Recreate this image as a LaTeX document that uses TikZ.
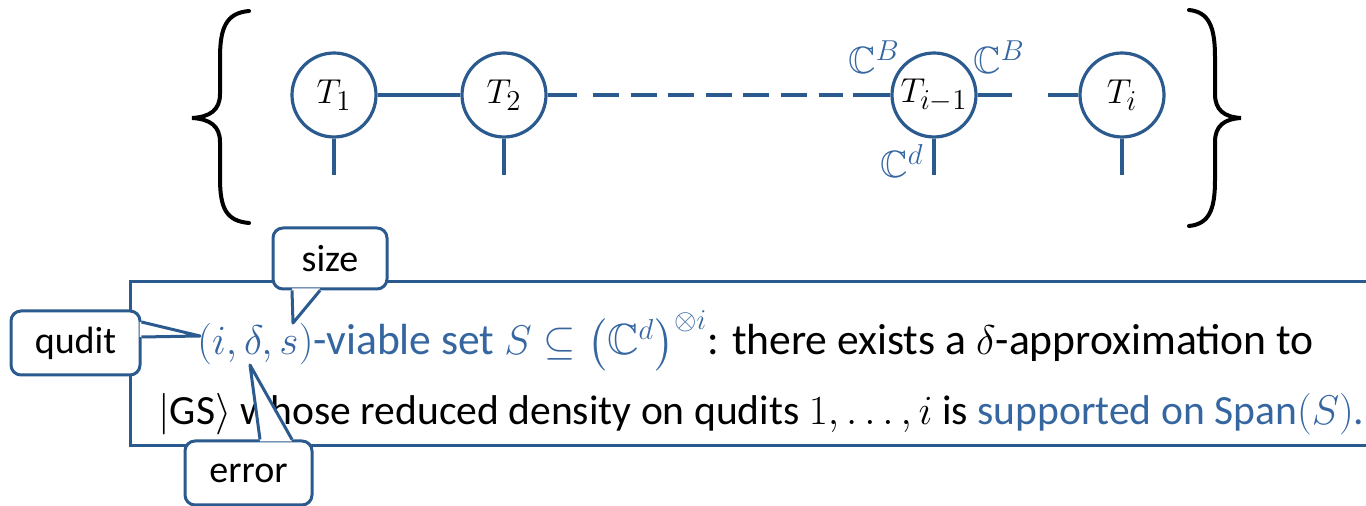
\documentclass[tikz,border=0pt]{standalone}
\usepackage{amsmath,amssymb}
\usepackage{fontspec}
\setmainfont{Carlito}
\usepackage{tikz}
\usetikzlibrary{calc}
\definecolor{netblue}{HTML}{2B5A8E}
\definecolor{txtblue}{HTML}{3566A0}

\begin{document}
\begin{tikzpicture}[x=0.5pt,y=-0.5pt,
  every node/.style={font=\fontsize{19}{23}\selectfont},
  tensor/.style={circle,draw=netblue,line width=1.6pt,minimum size=42pt,inner sep=0pt,fill=white},
  leg/.style={netblue,line width=1.8pt},
  brc/.style={line width=2pt,line cap=round},
  frame/.style={netblue,line width=1.5pt},
  callbox/.style={draw=netblue,line width=1.5pt,rounded corners=5pt,fill=white,inner sep=0pt},
  wedge/.style={netblue,line width=1.5pt,line join=round},
  lbl/.style={text=txtblue,inner sep=0pt}]
  \useasboundingbox (0,0) rectangle (1366,506);
  % the chain of tensors
  \node[tensor] (t1) at (334,95) {$T_1$};
  \node[tensor] (t2) at (504,95) {$T_2$};
  \node[tensor] (tm) at (934,95) {$T_{i-1}$};
  \node[tensor] (ti) at (1122,95) {$T_i$};
  \foreach \t in {t1,t2,tm,ti} {
    \coordinate (\t-end) at ($(\t.south)+(0,36)$);
    \draw[leg] (\t.south) -- (\t-end);
  }
  \coordinate (d0) at (577,95);
  \coordinate (d1) at (593,95);
  \coordinate (d2) at (843,95);
  \coordinate (d3) at (853,95);
  \coordinate (r1) at (1012,95);
  \coordinate (r2) at (1048,95);
  \draw[leg] (t1) -- (t2);
  \draw[leg] (t2) -- (d0);
  \draw[leg,dash pattern=on 13pt off 5.8pt] (d1) -- (d2);
  \draw[leg] (d3) -- (tm);
  \draw[leg] (tm) -- (r1);
  \draw[leg] (r2) -- (ti);
  \node[lbl] (cbl) at (874,57) {$\mathbb{C}^B$};
  \node[lbl] (cbr) at (999,57) {$\mathbb{C}^B$};
  \node[lbl] (cd) at (902,161) {$\mathbb{C}^d$};
  % braces
  \draw[brc] (249,11) .. controls (226,13) and (220,28) .. (220,58) -- (220,94)
    .. controls (220,110) and (210,117) .. (192,118)
    .. controls (210,119) and (220,126) .. (220,142) -- (220,178)
    .. controls (220,208) and (226,221) .. (249,223);
  \draw[brc] (1189,10) .. controls (1209,12) and (1215,27) .. (1215,57) -- (1215,94)
    .. controls (1215,110) and (1224,117) .. (1241,118)
    .. controls (1224,119) and (1215,126) .. (1215,142) -- (1215,180)
    .. controls (1215,210) and (1209,224) .. (1189,226);
  % definition box
  \draw[frame] (1366,282) -- (130,282) -- (130,446) -- (1366,446);
  \node[anchor=base west,inner sep=0pt,font=\fontsize{21.8}{26}\selectfont] (line1) at (197,355)
    {\textcolor{txtblue}{$(i,\delta,s)$-viable set $S\subseteq\big(\mathbb{C}^d\big)^{\otimes i}$}: there exists a $\delta$-approximation to};
  \node[anchor=base west,inner sep=0pt,font=\fontsize{20.8}{25}\selectfont] (line2) at (158,425)
    {$|\mathrm{GS}\rangle$ whose reduced density on qudits $1,\dots,i$ is \textcolor{txtblue}{supported on Span$(S)$.}};
  % callouts
  \node[callbox,minimum width=57pt,minimum height=30.5pt] (size) at (330,258.5) {size};
  \node[callbox,minimum width=64.5pt,minimum height=32pt] (qudit) at (75.5,343) {qudit};
  \node[callbox,minimum width=63.5pt,minimum height=32pt] (error) at (248.5,473) {error};
  \coordinate (sizetip) at (293,323);
  \coordinate (quditip) at (200,336);
  \coordinate (errortip) at (250,365);
  \fill[white] ($(size.south)+(-38,-2)$) -- (sizetip) -- ($(size.south)+(-10,-2)$) -- cycle;
  \draw[wedge] ($(size.south)+(-38,0)$) -- (sizetip) -- ($(size.south)+(-10,0)$);
  \fill[white] ($(qudit.east)+(-2,-21)$) -- (quditip) -- ($(qudit.east)+(-2,-6)$) -- cycle;
  \draw[wedge] ($(qudit.east)+(0,-21)$) -- (quditip) -- ($(qudit.east)+(0,-6)$);
  \fill[white] ($(error.north)+(11.5,2)$) -- (errortip) -- ($(error.north)+(43.5,2)$) -- cycle;
  \draw[wedge] ($(error.north)+(11.5,0)$) -- (errortip) -- ($(error.north)+(43.5,0)$);
\end{tikzpicture}
\end{document}
